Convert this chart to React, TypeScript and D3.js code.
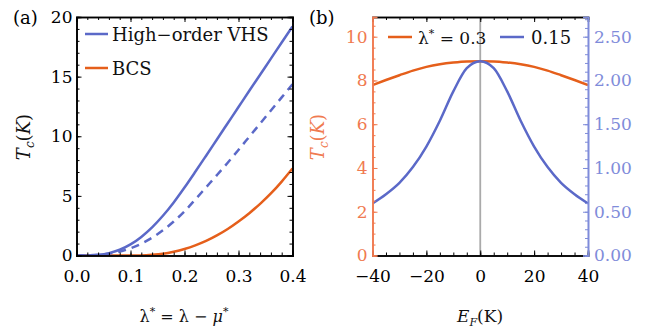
import React, { useRef, useEffect } from "react";
import * as d3 from "d3";

const width = 647;
const height = 329;

// panel (a)
const lambdaStar = [0, 0.02, 0.04, 0.06, 0.08, 0.1, 0.12, 0.14, 0.16, 0.18, 0.2, 0.22, 0.24, 0.26, 0.28, 0.3, 0.32, 0.34, 0.36, 0.38, 0.4];
const tcVHS = [0, 0.01, 0.06, 0.2, 0.48, 0.93, 1.56, 2.36, 3.33, 4.45, 5.7, 7.02, 8.37, 9.73, 11.09, 12.45, 13.81, 15.16, 16.51, 17.86, 19.2];
const tcVHSDashed = [0, 0.01, 0.05, 0.15, 0.33, 0.61, 0.99, 1.49, 2.11, 2.85, 3.7, 4.7, 5.72, 6.74, 7.78, 8.86, 9.96, 11.06, 12.16, 13.26, 14.36];
const tcBCS = [0, 0, 0, 0, 0, 0, 0.01, 0.06, 0.15, 0.32, 0.55, 0.85, 1.22, 1.68, 2.22, 2.85, 3.55, 4.33, 5.2, 6.2, 7.3];
const aXTicks = [0, 0.1, 0.2, 0.3, 0.4];
const aYTicks = [0, 5, 10, 15, 20];

// panel (b)
const fermiEnergy = [-40, -35, -30, -25, -20, -15, -10, -5, 0, 5, 10, 15, 20, 25, 30, 35, 40];
const tcLambda03 = [7.79, 8.02, 8.24, 8.45, 8.62, 8.74, 8.82, 8.87, 8.88, 8.87, 8.82, 8.74, 8.62, 8.45, 8.24, 8.02, 7.79];
const tcLambda015 = [0.595, 0.7, 0.83, 1.01, 1.245, 1.54, 1.875, 2.14, 2.22, 2.14, 1.875, 1.54, 1.245, 1.01, 0.83, 0.7, 0.595];
const bXTicks = [-40, -20, 0, 20, 40];
const bLeftTicks = [0, 2, 4, 6, 8, 10];
const bRightTicks = [0, 0.5, 1, 1.5, 2, 2.5];

const blue = "#5b69c8";
const orange = "#e55f1b";
const orangeAxis = "#f07a50";
const blueAxis = "#7f8cda";
const font = "DejaVu Serif";
const tickFont = 17;

type Sel = d3.Selection<SVGGElement, unknown, null, undefined>;

function styleAxis(g: Sel, color: string, labelColor: string) {
  g.select(".domain").attr("stroke", color).attr("stroke-width", 1.6);
  g.selectAll(".tick line").attr("stroke", color).attr("stroke-width", 1);
  g.selectAll(".tick text")
    .attr("fill", labelColor)
    .attr("font-family", font)
    .attr("font-size", tickFont);
}

export default function App() {
  const ref = useRef<SVGSVGElement | null>(null);

  useEffect(() => {
    const svg = d3.select(ref.current);
    svg.selectAll("*").remove();

    // ---------- panel (a)
    const xa = d3.scaleLinear().domain([0, 0.4]).range([76.5, 292.5]);
    const ya = d3.scaleLinear().domain([0, 20]).range([255.5, 17]);

    svg.append("clipPath").attr("id", "clipA").append("rect")
      .attr("x", 76.5).attr("y", 17).attr("width", 216).attr("height", 238.5);

    const lineA = (vals: number[]) =>
      d3.line<number>()
        .x((d, i) => xa(lambdaStar[i]))
        .y((d) => ya(d))
        .curve(d3.curveMonotoneX)(vals);

    const curvesA = svg.append("g").attr("clip-path", "url(#clipA)");
    curvesA.append("path").attr("d", lineA(tcBCS)!).attr("fill", "none")
      .attr("stroke", orange).attr("stroke-width", 2.5);
    curvesA.append("path").attr("d", lineA(tcVHSDashed)!).attr("fill", "none")
      .attr("stroke", blue).attr("stroke-width", 2.5).attr("stroke-dasharray", "8,6");
    curvesA.append("path").attr("d", lineA(tcVHS)!).attr("fill", "none")
      .attr("stroke", blue).attr("stroke-width", 2.5);

    const xaMinor = d3.range(0, 0.401, 0.02);
    const yaMinor = d3.range(0, 20.01, 1);

    // bottom
    svg.append("g").attr("transform", `translate(0,${ya(0)})`)
      .call(d3.axisBottom(xa).tickValues(xaMinor).tickSize(-3).tickFormat(() => ""))
      .call((g) => styleAxis(g, "#000", "#000"));
    svg.append("g").attr("transform", `translate(0,${ya(0)})`)
      .call(d3.axisBottom(xa).tickValues(aXTicks).tickSize(-5).tickPadding(14).tickFormat(d3.format(".1f")))
      .call((g) => styleAxis(g, "#000", "#000"));
    // top
    svg.append("g").attr("transform", `translate(0,${ya(20)})`)
      .call(d3.axisTop(xa).tickValues(xaMinor).tickSize(-3).tickFormat(() => ""))
      .call((g) => styleAxis(g, "#000", "#000"));
    svg.append("g").attr("transform", `translate(0,${ya(20)})`)
      .call(d3.axisTop(xa).tickValues(aXTicks).tickSize(-5).tickFormat(() => ""))
      .call((g) => styleAxis(g, "#000", "#000"));
    // left
    svg.append("g").attr("transform", `translate(${xa(0)},0)`)
      .call(d3.axisLeft(ya).tickValues(yaMinor).tickSize(-3).tickFormat(() => ""))
      .call((g) => styleAxis(g, "#000", "#000"));
    svg.append("g").attr("transform", `translate(${xa(0)},0)`)
      .call(d3.axisLeft(ya).tickValues(aYTicks).tickSize(-5).tickPadding(4))
      .call((g) => styleAxis(g, "#000", "#000"));
    // right
    svg.append("g").attr("transform", `translate(${xa(0.4)},0)`)
      .call(d3.axisRight(ya).tickValues(yaMinor).tickSize(-3).tickFormat(() => ""))
      .call((g) => styleAxis(g, "#000", "#000"));
    svg.append("g").attr("transform", `translate(${xa(0.4)},0)`)
      .call(d3.axisRight(ya).tickValues(aYTicks).tickSize(-5).tickFormat(() => ""))
      .call((g) => styleAxis(g, "#000", "#000"));

    // legend (a)
    const legA = [
      { label: "High\u2212order VHS", color: blue, y: 34 },
      { label: "BCS", color: orange, y: 68 },
    ];
    legA.forEach((l) => {
      svg.append("line").attr("x1", 85).attr("x2", 108).attr("y1", l.y).attr("y2", l.y)
        .attr("stroke", l.color).attr("stroke-width", 2.5);
      svg.append("text").attr("x", 112).attr("y", l.y + 7).attr("font-family", font)
        .attr("font-size", 18).attr("fill", "#111").text(l.label);
    });

    svg.append("text").attr("x", 13).attr("y", 24).attr("font-family", font)
      .attr("font-size", 18).text("(a)");

    // y title (a)
    const ta = svg.append("text").attr("transform", "translate(30,137) rotate(-90)")
      .attr("text-anchor", "middle").attr("font-family", font).attr("font-size", 18).attr("fill", "#111");
    ta.append("tspan").attr("font-style", "italic").text("T");
    ta.append("tspan").attr("font-style", "italic").attr("font-size", 12).attr("dy", 4).text("c");
    ta.append("tspan").attr("dy", -4).text("(");
    ta.append("tspan").attr("font-style", "italic").text("K");
    ta.append("tspan").text(")");

    // x title (a)
    const xt = svg.append("text").attr("x", 184).attr("y", 322).attr("text-anchor", "middle")
      .attr("font-family", font).attr("font-size", 16).attr("fill", "#111");
    xt.append("tspan").text("\u03bb");
    xt.append("tspan").attr("font-size", 11).attr("dy", -7).text("*");
    xt.append("tspan").attr("dy", 7).text(" = \u03bb \u2212 ");
    xt.append("tspan").attr("font-style", "italic").text("\u03bc");
    xt.append("tspan").attr("font-size", 11).attr("dy", -7).text("*");

    // ---------- panel (b)
    const xb = d3.scaleLinear().domain([-40, 40]).range([372.5, 588]);
    const ybL = d3.scaleLinear().domain([0, 10.9]).range([255.5, 17]);
    const ybR = d3.scaleLinear().domain([0, 10.9 / 4]).range([255.5, 17]);

    svg.append("clipPath").attr("id", "clipB").append("rect")
      .attr("x", 372.5).attr("y", 17).attr("width", 215.5).attr("height", 238.5);

    const curvesB = svg.append("g").attr("clip-path", "url(#clipB)");
    curvesB.append("line").attr("x1", xb(0)).attr("x2", xb(0)).attr("y1", 17).attr("y2", 255.5)
      .attr("stroke", "#aaaaaa").attr("stroke-width", 1.8);
    curvesB.append("path")
      .attr("d", d3.line<number>().x((d, i) => xb(fermiEnergy[i])).y((d) => ybL(d)).curve(d3.curveMonotoneX)(tcLambda03)!)
      .attr("fill", "none").attr("stroke", orange).attr("stroke-width", 2.5);
    curvesB.append("path")
      .attr("d", d3.line<number>().x((d, i) => xb(fermiEnergy[i])).y((d) => ybR(d)).curve(d3.curveMonotoneX)(tcLambda015)!)
      .attr("fill", "none").attr("stroke", blue).attr("stroke-width", 2.5);

    const xbMinor = d3.range(-40, 40.01, 5);
    const ybLMinor = d3.range(0, 10.91, 0.5);
    const ybRMinor = d3.range(0, 2.72, 0.1);

    // bottom
    svg.append("g").attr("transform", `translate(0,${ybL(0)})`)
      .call(d3.axisBottom(xb).tickValues(xbMinor).tickSize(-3).tickFormat(() => ""))
      .call((g) => styleAxis(g, "#000", "#000"));
    svg.append("g").attr("transform", `translate(0,${ybL(0)})`)
      .call(d3.axisBottom(xb).tickValues(bXTicks).tickSize(-5).tickPadding(14).tickFormat((d) => String(d).replace("-", "\u2212")))
      .call((g) => styleAxis(g, "#000", "#000"));
    // top
    svg.append("g").attr("transform", `translate(0,17)`)
      .call(d3.axisTop(xb).tickValues(xbMinor).tickSize(-3).tickFormat(() => ""))
      .call((g) => styleAxis(g, "#000", "#000"));
    svg.append("g").attr("transform", `translate(0,17)`)
      .call(d3.axisTop(xb).tickValues(bXTicks).tickSize(-5).tickFormat(() => ""))
      .call((g) => styleAxis(g, "#000", "#000"));
    // left, orange
    svg.append("g").attr("transform", `translate(${xb(-40)},0)`)
      .call(d3.axisLeft(ybL).tickValues(ybLMinor).tickSize(-3).tickFormat(() => ""))
      .call((g) => styleAxis(g, orangeAxis, orangeAxis));
    svg.append("g").attr("transform", `translate(${xb(-40)},0)`)
      .call(d3.axisLeft(ybL).tickValues(bLeftTicks).tickSize(-5).tickPadding(5))
      .call((g) => styleAxis(g, orangeAxis, orangeAxis));
    // right, blue
    svg.append("g").attr("transform", `translate(${xb(40)},0)`)
      .call(d3.axisLeft(ybR).tickValues(ybRMinor).tickSize(3).tickFormat(() => ""))
      .call((g) => styleAxis(g, blueAxis, blueAxis));
    svg.append("g").attr("transform", `translate(${xb(40)},0)`)
      .call(d3.axisRight(ybR).tickValues(bRightTicks).tickSize(-5).tickPadding(6).tickFormat(d3.format(".2f")))
      .call((g) => styleAxis(g, blueAxis, blueAxis));

    // legend (b)
    svg.append("line").attr("x1", 388).attr("x2", 412).attr("y1", 37).attr("y2", 37)
      .attr("stroke", orange).attr("stroke-width", 2.5);
    const lb = svg.append("text").attr("x", 418).attr("y", 44).attr("font-family", font)
      .attr("font-size", 17).attr("fill", "#111");
    lb.append("tspan").text("\u03bb");
    lb.append("tspan").attr("font-size", 11).attr("dy", -7).text("*");
    lb.append("tspan").attr("dy", 7).text(" = 0.3");
    svg.append("line").attr("x1", 500).attr("x2", 524).attr("y1", 37).attr("y2", 37)
      .attr("stroke", blue).attr("stroke-width", 2.5);
    svg.append("text").attr("x", 531).attr("y", 44).attr("font-family", font)
      .attr("font-size", 18).attr("fill", "#111").text("0.15");

    svg.append("text").attr("x", 309).attr("y", 24).attr("font-family", font)
      .attr("font-size", 18).text("(b)");

    // y title (b), orange
    const tb = svg.append("text").attr("transform", "translate(324,137) rotate(-90)")
      .attr("text-anchor", "middle").attr("font-family", font).attr("font-size", 18).attr("fill", orangeAxis);
    tb.append("tspan").attr("font-style", "italic").text("T");
    tb.append("tspan").attr("font-style", "italic").attr("font-size", 12).attr("dy", 4).text("c");
    tb.append("tspan").attr("dy", -4).text("(");
    tb.append("tspan").attr("font-style", "italic").text("K");
    tb.append("tspan").text(")");

    // x title (b)
    const xtb = svg.append("text").attr("x", 480).attr("y", 322).attr("text-anchor", "middle")
      .attr("font-family", font).attr("font-size", 17).attr("fill", "#111");
    xtb.append("tspan").attr("font-style", "italic").text("E");
    xtb.append("tspan").attr("font-style", "italic").attr("font-size", 11).attr("dy", 4).text("F");
    xtb.append("tspan").attr("dy", -4).text("(K)");
  }, []);

  return (
    <svg ref={ref} width={width} height={height}
      style={{ position: "absolute", left: 0, top: 0, background: "#fff" }} />
  );
}
